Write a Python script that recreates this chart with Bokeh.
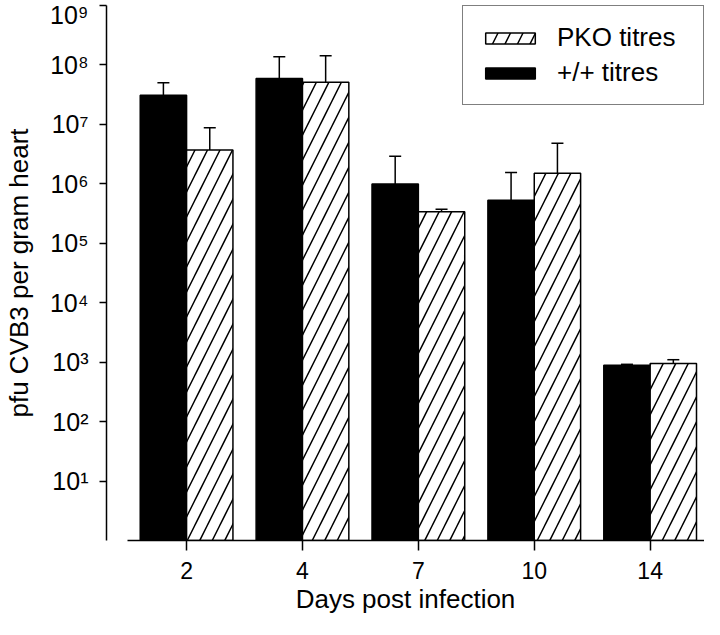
from bokeh.plotting import figure
from bokeh.models import (Range1d, FixedTicker, Whisker, TeeHead, ColumnDataSource,
                          Legend, LegendItem)
from bokeh.embed import file_html
from bokeh.resources import INLINE

# ---- data ----
days = ["2", "4", "7", "10", "14"]
wt_titre = [3.1e7, 5.9e7, 9.9e5, 5.3e5, 8.9e2]        # +/+ titres (black)
wt_upper = [5.0e7, 1.37e8, 2.9e6, 1.55e6, 9.2e2]
pko_titre = [3.7e6, 5.1e7, 3.4e5, 1.5e6, 9.5e2]       # PKO titres (hatched)
pko_upper = [8.8e6, 1.43e8, 3.75e5, 4.8e6, 1.1e3]
y_ticks = [1e1, 1e2, 1e3, 1e4, 1e5, 1e6, 1e7, 1e8, 1e9]
y_tick_labels = ["10\u00b9", "10\u00b2", "10\u00b3", "10\u2074", "10\u2075",
                 "10\u2076", "10\u2077", "10\u2078", "10\u2079"]

idx = list(range(len(days)))
bar_w = 0.4
FONT = "Liberation Sans"

wt_src = ColumnDataSource(dict(x=[i - bar_w / 2 for i in idx], top=wt_titre, upper=wt_upper))
pko_src = ColumnDataSource(dict(x=[i + bar_w / 2 for i in idx], top=pko_titre, upper=pko_upper))

p = figure(width=704, height=619, y_axis_type="log",
           x_range=Range1d(-0.691, 4.469), y_range=Range1d(1, 1e9),
           output_backend="svg", toolbar_location=None,
           min_border_left=99, min_border_right=0, min_border_top=5, min_border_bottom=79)
p.outline_line_color = None
p.xgrid.grid_line_color = None
p.ygrid.grid_line_color = None

r_wt = p.vbar(x="x", top="top", bottom=1, width=bar_w, source=wt_src,
              fill_color="black", line_color="black", line_width=1.5)
r_pko = p.vbar(x="x", top="top", bottom=1, width=bar_w, source=pko_src,
               fill_color="white", line_color="black", line_width=1.5,
               hatch_pattern="/", hatch_scale=25, hatch_weight=1.5, hatch_color="black")

for src in (wt_src, pko_src):
    w = Whisker(source=src, base="x", lower="top", upper="upper", dimension="height",
                line_color="black", line_width=1.5, lower_head=None,
                upper_head=TeeHead(size=12, line_color="black", line_width=1.5))
    p.add_layout(w)

# x axis
xa = p.xaxis[0]
xa.ticker = FixedTicker(ticks=idx)
xa.major_label_overrides = {i: d for i, d in zip(idx, days)}
xa.bounds = (-0.512, 4.469)
xa.axis_label = "Days post infection"

# y axis
ya = p.yaxis[0]
ya.ticker = FixedTicker(ticks=y_ticks, minor_ticks=[])
ya.major_label_overrides = {t: l for t, l in zip(y_ticks, y_tick_labels)}
ya.axis_label = "pfu CVB3 per gram heart"

for ax in (xa, ya):
    ax.axis_line_color = "black"
    ax.axis_line_width = 1.5
    ax.major_tick_line_color = "black"
    ax.major_tick_line_width = 1.5
    ax.major_tick_in = 0
    ax.minor_tick_line_color = None
    ax.major_label_text_font = FONT
    ax.major_label_text_color = "black"
    ax.axis_label_text_font = FONT
    ax.axis_label_text_font_size = "26px"
    ax.axis_label_text_font_style = "normal"
    ax.axis_label_text_color = "black"
xa.major_label_text_font_size = "23px"
ya.major_label_text_font_size = "25px"
xa.major_tick_out = 10
xa.major_label_standoff = 11
xa.axis_label_standoff = 2
ya.major_tick_out = 7
ya.major_label_standoff = 11
ya.axis_label_standoff = 13

legend = Legend(items=[LegendItem(label="PKO titres", renderers=[r_pko]),
                       LegendItem(label="+/+ titres", renderers=[r_wt])],
                location="top_right", orientation="vertical",
                glyph_width=62, glyph_height=14, label_standoff=16,
                padding=16, spacing=4, label_height=30, label_width=130, margin=0,
                label_text_font=FONT, label_text_font_size="26px",
                label_text_color="black",
                border_line_color="black", border_line_width=1.5,
                background_fill_color="white", background_fill_alpha=1.0)
p.add_layout(legend)

open("out.html", "w").write(file_html(p, INLINE))
